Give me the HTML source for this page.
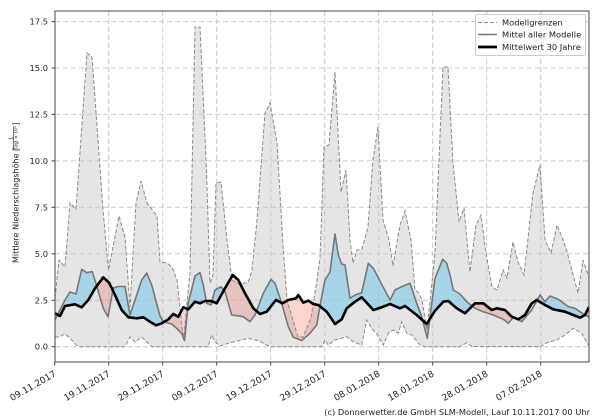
<!DOCTYPE html>
<html><head><meta charset="utf-8"><style>
html,body{margin:0;padding:0;background:#fff;}
svg{display:block;font-family:"DejaVu Sans","Liberation Sans",sans-serif;}
</style></head><body>
<svg width="600" height="420" viewBox="0 0 600 420" xmlns="http://www.w3.org/2000/svg">
<defs>
<clipPath id="ax"><rect x="55" y="11" width="534" height="351"/></clipPath>
<clipPath id="overClim"><polygon points="55,313.3 60,316 65,306 75,304.3 81.7,307.3 88.3,300 95,288.3 103.3,277.3 109.3,283 115,295 121.7,310 128.3,317.3 136.7,318.3 143.3,317.3 150,321.7 156,325.3 161.7,323.3 168.3,319.3 173.3,314 178.3,316.7 183.3,307.3 188.3,309.3 195,301.7 200,303.3 205,301 211,301 216.7,303.3 225,288.3 232.7,275 238.3,280 245,293.3 253.3,308.3 260,314 266.7,311.7 276,300 282.3,303.3 288.3,300 296,298.3 298.3,295 303.3,302.7 308.3,300.7 313.3,304 318.3,305 326.7,311.7 335,324 341.7,319.3 346.7,308.3 355,301.7 361.7,297.3 373.3,310 381.7,307.3 390,304 400,308.3 405,306 416.7,315 426.7,324 435,310.7 443.3,301.7 448.3,301 456.7,308.3 465,313.3 475,303.3 483.3,303.3 491.7,310 496.7,308.3 505,310 511.7,316.7 518.3,319.3 525,315 531.7,303.3 536.7,300 545,305 553.3,309.3 565,311.7 573.3,315 580,317.7 585,315 589,307 589,0 55,0"/></clipPath>
<clipPath id="overModel"><polygon points="55,320 60,310 65,300 70,292 76,294 81.7,269.3 86.7,272.7 92.3,271.7 96.7,286 103.3,308.3 108,316.7 113.3,288 118.3,286.5 125,286.5 130,315 136.7,295 141.7,280 146.7,273 151.7,285 157,305 160,316 163.3,321.7 171.7,324 176.7,328.3 181.7,333.3 184.5,340.5 188.3,303 195,276 200,272.5 203.3,285 206.7,303.3 211,305 215,290 221,286.7 225,291.7 231.7,315 243.3,316.7 250,321.7 255,315 263.3,293.3 271,279.3 275,283.3 281.7,303.3 288.3,326.7 293.3,337.3 301.7,340.5 310,333.3 316.7,325 319.3,310 322,295 325,280 330,272 335,234 338.3,255 341.7,264 345,265 350,298.3 355,295 361.7,292.7 368.3,263.3 373.3,268.3 390,300 395,290 401.7,286.7 410,283.3 416.7,303.3 421.7,316.7 427.3,338.3 435,278.3 442.7,259.3 446.7,263.3 450,275 453.3,290 460,294 466.7,301.7 475,308.3 483.3,311.7 493.3,315 503.3,319.3 508.3,323.3 513.3,317.3 521.7,321.7 531.7,310 540,295 545,301.7 550,296 558.3,299.3 568.3,306.7 575,308.3 580,311.7 585,315 589,317 589,0 55,0"/></clipPath>
</defs>

<g clip-path="url(#ax)">
<!-- envelope -->
<polygon fill="#e5e5e5" points="55,298 59,260 65,267 70,203 76,209 87,53 92,57 103,210 108.5,270 119,216 125,237 130,307 136,203 141,181 147,203 157,216 160,262 167,263 172,267 177,280 183.5,340 187,303 190,273 195,27 200,27 206.5,170 210,283 213,275 216,183 221,182 227,240 232,280 237,283 248,283 252,270 257,220 265,113 270,103 277,143 283,245 287,300 298,337 303,337 311,318 317,280 320,258 324,147 329,145 335,72 341,192 346,170 350,240 353,263 357,250 362,249 368,227 373,160 378,127 383,220 389,240 393,266 400,225 405,211 411,240 415,290 418,292 422,300 427,330 435,253 443,67 448,67 453,163 459,222 464,208 470,272 476,225 481,215 486,253 492,287 497,290 503,270 507,278 513,242 518,262 524,275 533,193 540,165 545,240 551,253 557,225 562,237 567,252 578,293 583,260 589,277 589,346 581.7,333.3 573.3,328.3 565,335 556.7,340 546.7,342.7 540,346.7 472,346.5 466.7,342.7 460,346.7 425,346.7 420,345 411.7,335 406.7,333.3 401.7,321.7 398.3,333.3 393.3,330 388.3,333.3 383.3,345 376,333 371.7,328.3 366.7,320 361.7,345 353.3,341.7 346.7,336.7 341.7,338.3 335,340 328.3,345 325,340 321.7,346.7 271,346.7 266.7,345 258.3,340.7 248.3,338.3 238.3,340.7 228.3,343.3 220,346 215,341.7 211.7,335 208,346.7 152,346.7 148,343 141.7,337 135,342 130,337 125,346.7 80,346.7 76,345 70,338 65,334 59,337 55,337"/>

<!-- grid -->
<g stroke="#c4c4c4" stroke-width="1" stroke-dasharray="5,3" opacity="0.9">
<line x1="55" x2="589" y1="346.7" y2="346.7"/>
<line x1="55" x2="589" y1="300.3" y2="300.3"/>
<line x1="55" x2="589" y1="253.8" y2="253.8"/>
<line x1="55" x2="589" y1="207.3" y2="207.3"/>
<line x1="55" x2="589" y1="160.9" y2="160.9"/>
<line x1="55" x2="589" y1="114.4" y2="114.4"/>
<line x1="55" x2="589" y1="68" y2="68"/>
<line x1="55" x2="589" y1="21.6" y2="21.6"/>
<line y1="11" y2="362" x1="108.7" x2="108.7"/>
<line y1="11" y2="362" x1="162.7" x2="162.7"/>
<line y1="11" y2="362" x1="216.7" x2="216.7"/>
<line y1="11" y2="362" x1="270.7" x2="270.7"/>
<line y1="11" y2="362" x1="324.7" x2="324.7"/>
<line y1="11" y2="362" x1="378.7" x2="378.7"/>
<line y1="11" y2="362" x1="432.7" x2="432.7"/>
<line y1="11" y2="362" x1="486.7" x2="486.7"/>
<line y1="11" y2="362" x1="540.7" x2="540.7"/>
</g>

<!-- blue: model above clim -->
<polygon clip-path="url(#overClim)" fill="#7fc8ea" fill-opacity="0.6" points="55,320 60,310 65,300 70,292 76,294 81.7,269.3 86.7,272.7 92.3,271.7 96.7,286 103.3,308.3 108,316.7 113.3,288 118.3,286.5 125,286.5 130,315 136.7,295 141.7,280 146.7,273 151.7,285 157,305 160,316 163.3,321.7 171.7,324 176.7,328.3 181.7,333.3 184.5,340.5 188.3,303 195,276 200,272.5 203.3,285 206.7,303.3 211,305 215,290 221,286.7 225,291.7 231.7,315 243.3,316.7 250,321.7 255,315 263.3,293.3 271,279.3 275,283.3 281.7,303.3 288.3,326.7 293.3,337.3 301.7,340.5 310,333.3 316.7,325 319.3,310 322,295 325,280 330,272 335,234 338.3,255 341.7,264 345,265 350,298.3 355,295 361.7,292.7 368.3,263.3 373.3,268.3 390,300 395,290 401.7,286.7 410,283.3 416.7,303.3 421.7,316.7 427.3,338.3 435,278.3 442.7,259.3 446.7,263.3 450,275 453.3,290 460,294 466.7,301.7 475,308.3 483.3,311.7 493.3,315 503.3,319.3 508.3,323.3 513.3,317.3 521.7,321.7 531.7,310 540,295 545,301.7 550,296 558.3,299.3 568.3,306.7 575,308.3 580,311.7 585,315 589,317 589,400 55,400"/>

<!-- red: model below clim -->
<polygon clip-path="url(#overModel)" fill="#f08070" fill-opacity="0.33" points="55,313.3 60,316 65,306 75,304.3 81.7,307.3 88.3,300 95,288.3 103.3,277.3 109.3,283 115,295 121.7,310 128.3,317.3 136.7,318.3 143.3,317.3 150,321.7 156,325.3 161.7,323.3 168.3,319.3 173.3,314 178.3,316.7 183.3,307.3 188.3,309.3 195,301.7 200,303.3 205,301 211,301 216.7,303.3 225,288.3 232.7,275 238.3,280 245,293.3 253.3,308.3 260,314 266.7,311.7 276,300 282.3,303.3 288.3,300 296,298.3 298.3,295 303.3,302.7 308.3,300.7 313.3,304 318.3,305 326.7,311.7 335,324 341.7,319.3 346.7,308.3 355,301.7 361.7,297.3 373.3,310 381.7,307.3 390,304 400,308.3 405,306 416.7,315 426.7,324 435,310.7 443.3,301.7 448.3,301 456.7,308.3 465,313.3 475,303.3 483.3,303.3 491.7,310 496.7,308.3 505,310 511.7,316.7 518.3,319.3 525,315 531.7,303.3 536.7,300 545,305 553.3,309.3 565,311.7 573.3,315 580,317.7 585,315 589,307 589,400 55,400"/>

<!-- envelope lines -->
<g fill="none" stroke="#8a8a8a" stroke-width="1" stroke-dasharray="4,2">
<polyline points="55,298 59,260 65,267 70,203 76,209 87,53 92,57 103,210 108.5,270 119,216 125,237 130,307 136,203 141,181 147,203 157,216 160,262 167,263 172,267 177,280 183.5,340 187,303 190,273 195,27 200,27 206.5,170 210,283 213,275 216,183 221,182 227,240 232,280 237,283 248,283 252,270 257,220 265,113 270,103 277,143 283,245 287,300 298,337 303,337 311,318 317,280 320,258 324,147 329,145 335,72 341,192 346,170 350,240 353,263 357,250 362,249 368,227 373,160 378,127 383,220 389,240 393,266 400,225 405,211 411,240 415,290 418,292 422,300 427,330 435,253 443,67 448,67 453,163 459,222 464,208 470,272 476,225 481,215 486,253 492,287 497,290 503,270 507,278 513,242 518,262 524,275 533,193 540,165 545,240 551,253 557,225 562,237 567,252 578,293 583,260 589,277"/>
<polyline points="55,337 59,337 65,334 70,338 76,345 80,346.7 125,346.7 130,337 135,342 141.7,337 148,343 152,346.7 208,346.7 211.7,335 215,341.7 220,346 228.3,343.3 238.3,340.7 248.3,338.3 258.3,340.7 266.7,345 271,346.7 321.7,346.7 325,340 328.3,345 335,340 341.7,338.3 346.7,336.7 353.3,341.7 361.7,345 366.7,320 371.7,328.3 376,333 383.3,345 388.3,333.3 393.3,330 398.3,333.3 401.7,321.7 406.7,333.3 411.7,335 420,345 425,346.7 460,346.7 466.7,342.7 472,346.5 540,346.7 546.7,342.7 556.7,340 565,335 573.3,328.3 581.7,333.3 589,346"/>
</g>

<!-- model mean -->
<polyline fill="none" stroke="#777" stroke-width="1.6" stroke-linejoin="round" points="55,320 60,310 65,300 70,292 76,294 81.7,269.3 86.7,272.7 92.3,271.7 96.7,286 103.3,308.3 108,316.7 113.3,288 118.3,286.5 125,286.5 130,315 136.7,295 141.7,280 146.7,273 151.7,285 157,305 160,316 163.3,321.7 171.7,324 176.7,328.3 181.7,333.3 184.5,340.5 188.3,303 195,276 200,272.5 203.3,285 206.7,303.3 211,305 215,290 221,286.7 225,291.7 231.7,315 243.3,316.7 250,321.7 255,315 263.3,293.3 271,279.3 275,283.3 281.7,303.3 288.3,326.7 293.3,337.3 301.7,340.5 310,333.3 316.7,325 319.3,310 322,295 325,280 330,272 335,234 338.3,255 341.7,264 345,265 350,298.3 355,295 361.7,292.7 368.3,263.3 373.3,268.3 390,300 395,290 401.7,286.7 410,283.3 416.7,303.3 421.7,316.7 427.3,338.3 435,278.3 442.7,259.3 446.7,263.3 450,275 453.3,290 460,294 466.7,301.7 475,308.3 483.3,311.7 493.3,315 503.3,319.3 508.3,323.3 513.3,317.3 521.7,321.7 531.7,310 540,295 545,301.7 550,296 558.3,299.3 568.3,306.7 575,308.3 580,311.7 585,315 589,317"/>

<!-- 30 year mean -->
<polyline fill="none" stroke="#000" stroke-width="2.6" stroke-linejoin="round" points="55,313.3 60,316 65,306 75,304.3 81.7,307.3 88.3,300 95,288.3 103.3,277.3 109.3,283 115,295 121.7,310 128.3,317.3 136.7,318.3 143.3,317.3 150,321.7 156,325.3 161.7,323.3 168.3,319.3 173.3,314 178.3,316.7 183.3,307.3 188.3,309.3 195,301.7 200,303.3 205,301 211,301 216.7,303.3 225,288.3 232.7,275 238.3,280 245,293.3 253.3,308.3 260,314 266.7,311.7 276,300 282.3,303.3 288.3,300 296,298.3 298.3,295 303.3,302.7 308.3,300.7 313.3,304 318.3,305 326.7,311.7 335,324 341.7,319.3 346.7,308.3 355,301.7 361.7,297.3 373.3,310 381.7,307.3 390,304 400,308.3 405,306 416.7,315 426.7,324 435,310.7 443.3,301.7 448.3,301 456.7,308.3 465,313.3 475,303.3 483.3,303.3 491.7,310 496.7,308.3 505,310 511.7,316.7 518.3,319.3 525,315 531.7,303.3 536.7,300 545,305 553.3,309.3 565,311.7 573.3,315 580,317.7 585,315 589,307"/>
</g>

<!-- axes frame -->
<rect x="55" y="11" width="534" height="351" fill="none" stroke="#444" stroke-width="1"/>

<!-- y ticks -->
<g stroke="#444" stroke-width="1">
<line x1="51.5" x2="55" y1="346.7" y2="346.7"/>
<line x1="51.5" x2="55" y1="300.3" y2="300.3"/>
<line x1="51.5" x2="55" y1="253.8" y2="253.8"/>
<line x1="51.5" x2="55" y1="207.3" y2="207.3"/>
<line x1="51.5" x2="55" y1="160.9" y2="160.9"/>
<line x1="51.5" x2="55" y1="114.4" y2="114.4"/>
<line x1="51.5" x2="55" y1="68" y2="68"/>
<line x1="51.5" x2="55" y1="21.6" y2="21.6"/>
<line y1="362" y2="365.5" x1="54.7" x2="54.7"/>
<line y1="362" y2="365.5" x1="108.7" x2="108.7"/>
<line y1="362" y2="365.5" x1="162.7" x2="162.7"/>
<line y1="362" y2="365.5" x1="216.7" x2="216.7"/>
<line y1="362" y2="365.5" x1="270.7" x2="270.7"/>
<line y1="362" y2="365.5" x1="324.7" x2="324.7"/>
<line y1="362" y2="365.5" x1="378.7" x2="378.7"/>
<line y1="362" y2="365.5" x1="432.7" x2="432.7"/>
<line y1="362" y2="365.5" x1="486.7" x2="486.7"/>
<line y1="362" y2="365.5" x1="540.7" x2="540.7"/>
</g>
<g font-size="8.3" fill="#222" text-anchor="end">
<text x="48" y="349.7">0.0</text>
<text x="48" y="303.3">2.5</text>
<text x="48" y="256.8">5.0</text>
<text x="48" y="210.3">7.5</text>
<text x="48" y="163.9">10.0</text>
<text x="48" y="117.4">12.5</text>
<text x="48" y="71">15.0</text>
<text x="48" y="24.6">17.5</text>
</g>
<g font-size="9" fill="#222" text-anchor="end">
<text transform="translate(56.7,375.5) rotate(-30)">09.11.2017</text>
<text transform="translate(110.7,375.5) rotate(-30)">19.11.2017</text>
<text transform="translate(164.7,375.5) rotate(-30)">29.11.2017</text>
<text transform="translate(218.7,375.5) rotate(-30)">09.12.2017</text>
<text transform="translate(272.7,375.5) rotate(-30)">19.12.2017</text>
<text transform="translate(326.7,375.5) rotate(-30)">29.12.2017</text>
<text transform="translate(380.7,375.5) rotate(-30)">08.01.2018</text>
<text transform="translate(434.7,375.5) rotate(-30)">18.01.2018</text>
<text transform="translate(488.7,375.5) rotate(-30)">28.01.2018</text>
<text transform="translate(542.7,375.5) rotate(-30)">07.02.2018</text>
</g>

<!-- y label -->
<g transform="translate(18.3,263) rotate(-90)" fill="#222">
<text x="0" y="0" font-size="8">Mittlere Niederschlagshöhe [</text>
<text x="125" y="-5.6" font-size="5.5" font-style="italic" text-anchor="middle">L</text>
<line x1="114" x2="136" y1="-4.8" y2="-4.8" stroke="#222" stroke-width="0.6"/>
<text x="125" y="-0.6" font-size="5.2" font-style="italic" text-anchor="middle">Tag × m²</text>
<text x="137.5" y="0" font-size="8">]</text>
</g>

<!-- legend -->
<rect x="475.5" y="14.5" width="110" height="41" rx="2" fill="#fff" fill-opacity="0.85" stroke="#ccc" stroke-width="1"/>
<line x1="478" x2="497" y1="22.5" y2="22.5" stroke="#8a8a8a" stroke-width="1" stroke-dasharray="4,2"/>
<line x1="478" x2="497" y1="34.5" y2="34.5" stroke="#777" stroke-width="1.6"/>
<line x1="478" x2="497" y1="47" y2="47" stroke="#000" stroke-width="2.8"/>
<g font-size="8.3" fill="#222">
<text x="502" y="25.5">Modellgrenzen</text>
<text x="502" y="37.5">Mittel aller Modelle</text>
<text x="502" y="50">Mittelwert 30 Jahre</text>
</g>

<!-- copyright -->
<text x="590" y="415" font-size="8.3" fill="#222" text-anchor="end">(c) Donnerwetter.de GmbH SLM-Modell, Lauf 10.11.2017 00 Uhr</text>
</svg>
</body></html>
